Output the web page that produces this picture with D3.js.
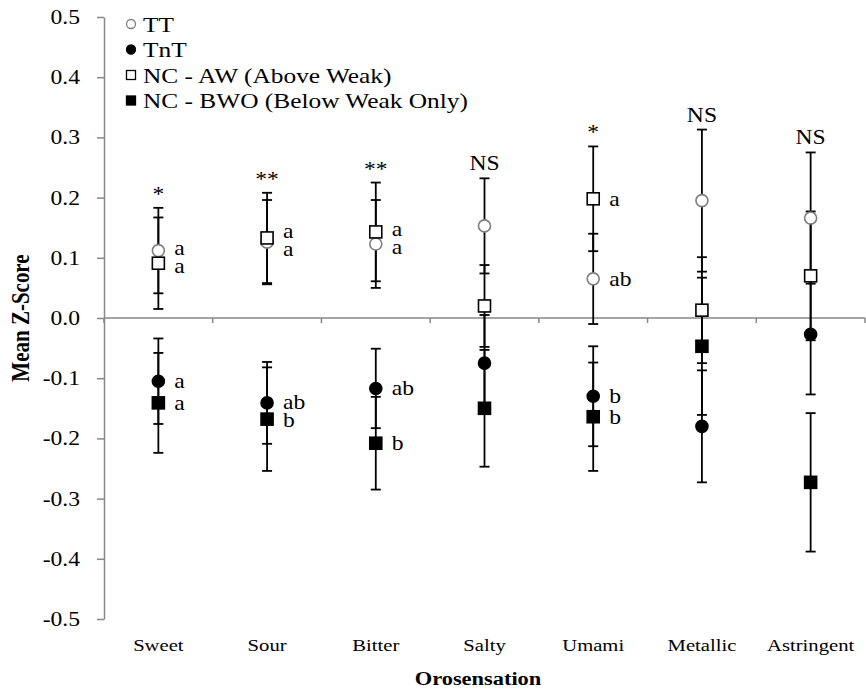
<!DOCTYPE html>
<html>
<head>
<meta charset="utf-8">
<script src="https://cdn.jsdelivr.net/npm/d3@7/dist/d3.min.js"></script>
<style>
  html, body { margin: 0; padding: 0; background: #fff; }
  svg { display: block; }
  text { font-family: "Liberation Serif", "Times New Roman", serif; fill: #000; }
</style>
</head>
<body>
<svg id="chart" width="866" height="692"></svg>
<script>
// ---------- data ----------
const categories = ["Sweet", "Sour", "Bitter", "Salty", "Umami", "Metallic", "Astringent"];
const yTicks = [0.5, 0.4, 0.3, 0.2, 0.1, 0.0, -0.1, -0.2, -0.3, -0.4, -0.5];

const ttMean  = [0.112, 0.126, 0.123, 0.153, 0.065, 0.195, 0.166];
const ttErr   = [0.071, 0.070, 0.073, 0.079, 0.075, 0.118, 0.109];
const tntMean = [-0.105, -0.141, -0.117, -0.075, -0.130, -0.180, -0.027];
const tntErr  = [0.071, 0.068, 0.066, 0.080, 0.083, 0.093, 0.100];
const awMean  = [0.091, 0.133, 0.143, 0.020, 0.198, 0.013, 0.070];
const awErr   = [0.076, 0.075, 0.082, 0.068, 0.087, 0.088, 0.107];
const bwoMean = [-0.141, -0.168, -0.208, -0.150, -0.164, -0.047, -0.273];
const bwoErr  = [0.083, 0.086, 0.077, 0.097, 0.090, 0.114, 0.115];

const ttLetters  = ["a", "a", "a", "", "ab", "", ""];
const tntLetters = ["a", "ab", "ab", "", "b", "", ""];
const awLetters  = ["a", "a", "a", "", "a", "", ""];
const bwoLetters = ["a", "b", "b", "", "b", "", ""];
const significance = ["*", "**", "**", "NS", "*", "NS", "NS"];

const seriesNames = ["TT", "TnT", "NC - AW (Above Weak)", "NC - BWO (Below Weak Only)"];

// ---------- layout ----------
const svg = d3.select("#chart");
const plotLeft = 104, plotRight = 865, plotTop = 17, plotBottom = 619;
const axisGrey = "#878787";
const stretch = 1.18; // the reference's lettering is horizontally wide

const x = d3.scaleBand().domain(categories).range([plotLeft, plotRight]).padding(0);
const y = d3.scaleLinear().domain([-0.5, 0.5]).range([plotBottom, plotTop]);
const cx = c => x(c) + x.bandwidth() / 2;

const series = [
  { name: seriesNames[0], mean: ttMean,  err: ttErr,  letters: ttLetters,  shape: "circle", fill: "#fff", stroke: "#7f7f7f", grp: "up" },
  { name: seriesNames[1], mean: tntMean, err: tntErr, letters: tntLetters, shape: "circle", fill: "#000", stroke: "#000", grp: "down" },
  { name: seriesNames[2], mean: awMean,  err: awErr,  letters: awLetters,  shape: "square", fill: "#fff", stroke: "#000", grp: "up" },
  { name: seriesNames[3], mean: bwoMean, err: bwoErr, letters: bwoLetters, shape: "square", fill: "#000", stroke: "#000", grp: "down" }
];

// helper: stretched text
function wideText(g, tx, ty, str, size, anchor, opts = {}) {
  const t = g.append("text")
    .attr("transform", `translate(${tx},${ty}) scale(${opts.sx || stretch},1)`)
    .attr("text-anchor", anchor || "start")
    .attr("font-size", size)
    .text(str);
  if (opts.bold) t.attr("font-weight", "bold");
  return t;
}

// ---------- y axis ----------
const fmt = v => d3.format(".1f")(v).replace("\u2212", "-");
const yAxis = d3.axisLeft(y).tickValues(yTicks).tickFormat("").tickSize(7).tickSizeOuter(0);
const gy = svg.append("g").attr("transform", `translate(${plotLeft},0)`).call(yAxis);
gy.select(".domain").attr("stroke", axisGrey).attr("stroke-width", 1.5);
gy.selectAll(".tick line").attr("stroke", axisGrey).attr("stroke-width", 1.5);
const gyl = svg.append("g");
yTicks.forEach(v => wideText(gyl, 80, y(v) + 7, fmt(v), 20, "end"));

// ---------- x axis at zero ----------
const gx = svg.append("g").attr("transform", `translate(0,${y(0)})`);
gx.append("line").attr("x1", plotLeft).attr("x2", plotRight).attr("y1", 0).attr("y2", 0)
  .attr("stroke", axisGrey).attr("stroke-width", 1.5);
const bounds = categories.map(c => x(c)).concat([plotRight]);
gx.selectAll("line.tk").data(bounds).join("line").attr("class", "tk")
  .attr("x1", d => d).attr("x2", d => d).attr("y1", 0).attr("y2", 5)
  .attr("stroke", axisGrey).attr("stroke-width", 1.5);

// category labels at the bottom
const gxl = svg.append("g");
categories.forEach(c => wideText(gxl, cx(c), 651, c, 17.5, "middle"));

// axis titles
wideText(svg, 478, 685, "Orosensation", 19, "middle", { bold: true });
svg.append("text").attr("transform", `translate(29,${y(0)}) rotate(-90) scale(1,${stretch})`)
  .attr("text-anchor", "middle").attr("font-size", 21).attr("font-weight", "bold")
  .text("Mean Z-Score");

// ---------- error bars ----------
const cap = 5;
const gErr = svg.append("g").attr("stroke", "#000").attr("stroke-width", 1.8).attr("fill", "none");
series.forEach(s => {
  categories.forEach((c, i) => {
    const hi = y(s.mean[i] + s.err[i]), lo = y(s.mean[i] - s.err[i]), xc = cx(c);
    gErr.append("line").attr("x1", xc).attr("x2", xc).attr("y1", hi).attr("y2", lo);
    gErr.append("line").attr("x1", xc - cap).attr("x2", xc + cap).attr("y1", hi).attr("y2", hi);
    gErr.append("line").attr("x1", xc - cap).attr("x2", xc + cap).attr("y1", lo).attr("y2", lo);
  });
});

// ---------- markers ----------
function drawMarker(g, shape, xc, yc, size, fill, stroke, sw) {
  if (shape === "circle") {
    g.append("circle").attr("cx", xc).attr("cy", yc).attr("r", size / 2)
      .attr("fill", fill).attr("stroke", stroke).attr("stroke-width", sw);
  } else {
    g.append("rect").attr("x", xc - size / 2).attr("y", yc - size / 2)
      .attr("width", size).attr("height", size)
      .attr("fill", fill).attr("stroke", stroke).attr("stroke-width", sw);
  }
}
const gM = svg.append("g");
series.forEach(s => {
  categories.forEach((c, i) => {
    drawMarker(gM, s.shape, cx(c), y(s.mean[i]), 12, s.fill, s.stroke, 1.6);
  });
});

// ---------- letter labels (spread apart when close) ----------
const gL = svg.append("g");
const minGap = 18;
["up", "down"].forEach(grp => {
  const ss = series.filter(s => s.grp === grp);
  categories.forEach((c, i) => {
    const items = ss.filter(s => s.letters[i]).map(s => ({ t: s.letters[i], py: y(s.mean[i]) }));
    items.sort((a, b) => a.py - b.py);
    if (items.length === 2 && items[1].py - items[0].py < minGap) {
      const mid = (items[0].py + items[1].py) / 2;
      items[0].py = mid - minGap / 2;
      items[1].py = mid + minGap / 2;
    }
    items.forEach(it => wideText(gL, cx(c) + 16, it.py + 7, it.t, 20, "start"));
  });
});

// ---------- significance marks ----------
const gS = svg.append("g");
categories.forEach((c, i) => {
  const topVal = d3.max(series, s => s.mean[i] + s.err[i]);
  const t = significance[i];
  const centerY = y(topVal) - (t === "NS" ? 15 : 18);
  wideText(gS, cx(c), centerY + (t === "NS" ? 7 : 11), t, 20, "middle");
});

// ---------- legend ----------
const gLeg = svg.append("g");
series.forEach((s, k) => {
  const ly = 24 + k * 25.5;
  drawMarker(gLeg, s.shape, 131, ly, 9, s.fill, s.stroke, 1.3);
  wideText(gLeg, 143, ly + 7.5, s.name, 21.5, "start");
});
</script>
</body>
</html>
